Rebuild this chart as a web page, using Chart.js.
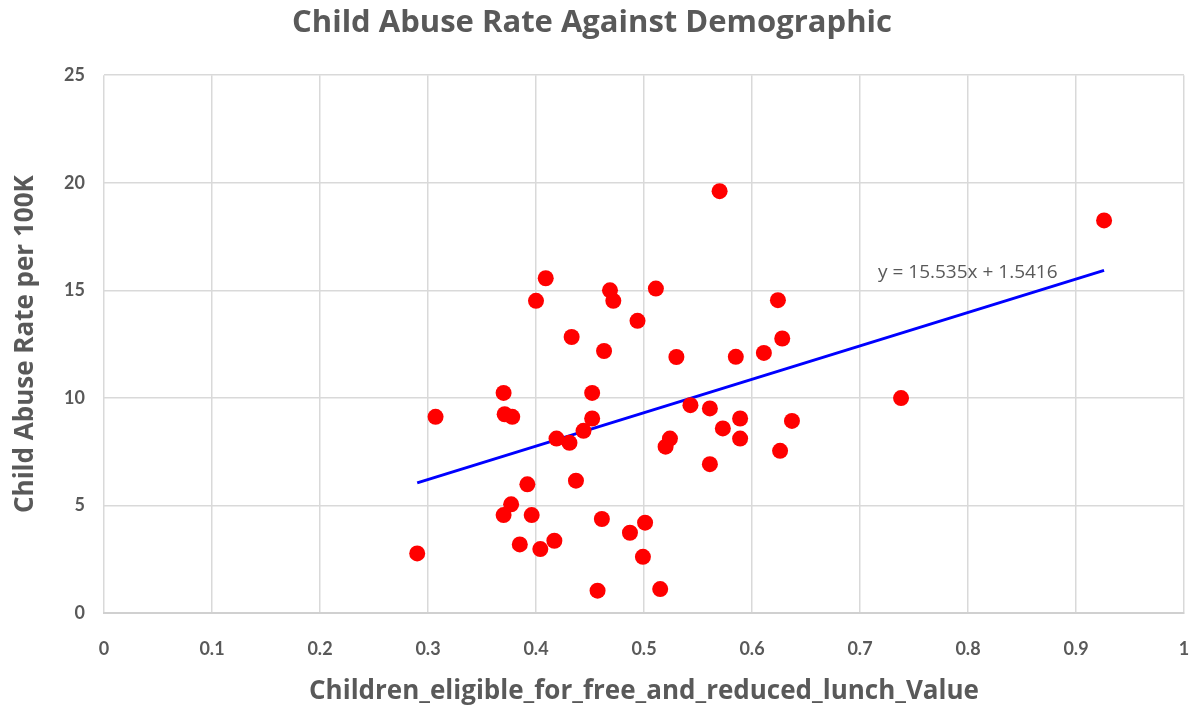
<!DOCTYPE html>
<html>
<head>
<meta charset="utf-8">
<script src="https://cdn.jsdelivr.net/npm/chart.js@4"></script>
<style>
  html, body { margin: 0; padding: 0; background: #fff; }
  #wrap { width: 1194px; height: 710px; }
</style>
</head>
<body>
<div id="wrap"><canvas id="abuse-chart"></canvas></div>
<script>
// lunch eligibility share per county (x) and abuse rate per 100K (y)
const lunchValues = [
  0.290, 0.307, 0.370, 0.371, 0.378, 0.370, 0.377, 0.385, 0.392, 0.396,
  0.400, 0.404, 0.409, 0.417, 0.419, 0.431, 0.433, 0.437, 0.444, 0.452,
  0.452, 0.457, 0.461, 0.463, 0.4685, 0.4716, 0.487, 0.494, 0.499, 0.501,
  0.511, 0.515, 0.520, 0.524, 0.530, 0.543, 0.561, 0.561, 0.570, 0.573,
  0.585, 0.589, 0.589, 0.611, 0.624, 0.626, 0.628, 0.637, 0.738, 0.926
];
const abuseRates = [
  2.77, 9.12, 10.23, 9.24, 9.12, 4.55, 5.05, 3.19, 5.98, 4.55,
  14.51, 2.97, 15.56, 3.36, 8.11, 7.91, 12.83, 6.15, 8.47, 9.04,
  10.23, 1.04, 4.37, 12.18, 15.0, 14.51, 3.73, 13.58, 2.61, 4.2,
  15.08, 1.11, 7.73, 8.11, 11.9, 9.66, 9.51, 6.92, 19.61, 8.58,
  11.91, 9.04, 8.11, 12.09, 14.54, 7.54, 12.76, 8.93, 9.99, 18.25
];

// linear trendline endpoints, y = 15.535x + 1.5416
const trendX = [0.290, 0.926];
const trendY = [6.05, 15.93];
const trendLabel = 'y = 15.535x + 1.5416';

const xTicks = [0, 0.1, 0.2, 0.3, 0.4, 0.5, 0.6, 0.7, 0.8, 0.9, 1];
const yTicks = [0, 5, 10, 15, 20, 25];

const FONT = 'Lato, "Open Sans", sans-serif';
const WIDE = '"Open Sans", Lato, sans-serif';
const GREY = '#595959';
const GRID = '#d9d9d9';

const scatterPoints = lunchValues.map((x, i) => ({ x: x, y: abuseRates[i] }));
const trendPoints = trendX.map((x, i) => ({ x: x, y: trendY[i] }));

// writes the trendline equation next to the line
const equationLabel = {
  id: 'equationLabel',
  afterDatasetsDraw(chart) {
    const { ctx, scales } = chart;
    const px = scales.x.getPixelForValue(0.7167);
    const py = scales.y.getPixelForValue(15.84);
    ctx.save();
    ctx.font = '19px ' + WIDE;
    ctx.fillStyle = GREY;
    ctx.textAlign = 'left';
    ctx.textBaseline = 'middle';
    ctx.fillText(trendLabel, px, py);
    ctx.restore();
  }
};

const ctx = document.getElementById('abuse-chart').getContext('2d');
new Chart(ctx, {
  type: 'scatter',
  data: {
    datasets: [
      {
        label: 'Child Abuse Rate',
        data: scatterPoints,
        backgroundColor: '#ff0000',
        borderColor: '#ff0000',
        pointRadius: 8,
        pointHoverRadius: 8,
        borderWidth: 0
      },
      {
        label: 'Linear trend',
        type: 'line',
        data: trendPoints,
        borderColor: '#0000ff',
        borderWidth: 3,
        pointRadius: 0,
        fill: false
      }
    ]
  },
  options: {
    responsive: true,
    maintainAspectRatio: false,
    animation: false,
    layout: { padding: { left: 0, right: 10, top: 0, bottom: 0 } },
    plugins: {
      legend: { display: false },
      tooltip: { enabled: false },
      title: {
        display: true,
        text: 'Child Abuse Rate Against Demographic',
        color: GREY,
        font: { family: WIDE, size: 31, weight: 'bold' },
        padding: { top: 5, bottom: 33 }
      }
    },
    scales: {
      x: {
        type: 'linear',
        min: 0,
        max: 1,
        afterBuildTicks: (scale) => { scale.ticks = xTicks.map(v => ({ value: v })); },
        afterFit: (scale) => {
          scale.height = 97;
          scale.paddingLeft = 0;
          scale.paddingRight = 0;
        },
        grid: { color: GRID, lineWidth: 1.5, drawTicks: false },
        border: { color: '#d0d0d0', width: 2 },
        ticks: {
          color: GREY,
          padding: 25,
          font: { family: FONT, size: 18, weight: 'bold' },
          callback: (v) => String(+v.toFixed(1))
        },
        title: {
          display: true,
          text: 'Children_eligible_for_free_and_reduced_lunch_Value',
          color: GREY,
          font: { family: WIDE, size: 26, weight: 'bold' },
          padding: { top: 0, bottom: 3 }
        }
      },
      y: {
        type: 'linear',
        min: 0,
        max: 25,
        afterBuildTicks: (scale) => { scale.ticks = yTicks.map(v => ({ value: v })); },
        afterFit: (scale) => {
          scale.width = 104;
          scale.paddingTop = 0;
          scale.paddingBottom = 0;
        },
        grid: { color: GRID, lineWidth: 1.5, drawTicks: false },
        border: { display: false },
        ticks: {
          color: GREY,
          padding: 19,
          font: { family: FONT, size: 18, weight: 'bold' }
        },
        title: {
          display: true,
          text: 'Child Abuse Rate per 100K',
          color: GREY,
          font: { family: WIDE, size: 26, weight: 'bold' },
          padding: { top: 10, bottom: 0 }
        }
      }
    }
  },
  plugins: [equationLabel]
});
</script>
</body>
</html>
